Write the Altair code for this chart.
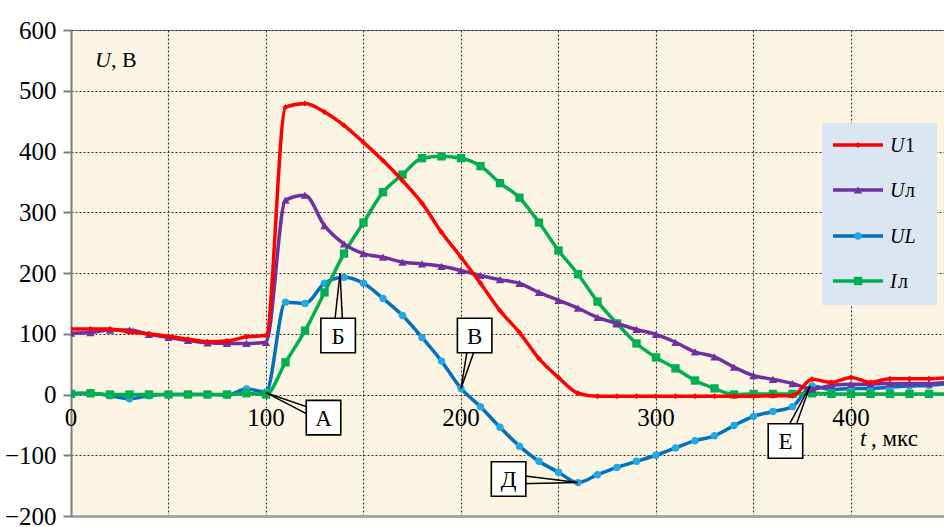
import altair as alt
import pandas as pd

# ---------------- data ----------------
t_us = [0, 10, 20, 30, 40, 50, 60, 70, 80, 90, 100, 110, 120, 130, 140, 150, 160, 170,
        180, 190, 200, 210, 220, 230, 240, 250, 260, 270, 280, 290, 300, 310, 320, 330,
        340, 350, 360, 370, 380, 390, 400, 410, 420, 430, 440, 450]

u1 = [108, 108, 108, 103, 100, 96, 91, 87, 88, 95, 97, 473, 479, 465, 443, 415, 385, 352,
      315, 267, 226, 183, 138, 102, 59, 28, 2, -3, -3, -3, -3, -3, -3, -3,
      -3, -3, -2, -2, 25, 20, 28, 20, 26, 26, 26, 28]

u_line = [101, 102, 106, 106, 99, 94, 89, 85, 84, 84, 86, 320, 328, 278, 248, 232, 226, 218,
          215, 211, 204, 196, 189, 183, 168, 155, 142, 127, 117, 107, 99, 86, 70, 62,
          45, 31, 25, 18, 9, 15, 17, 17, 18, 18, 18, 20]

u_L = [2, 2, -2, -7, -2, 0, 0, 0, -1, 9, 4, 152, 150, 183, 193, 183, 158, 130,
       94, 55, 10, -20, -54, -85, -110, -128, -145, -132, -120, -110, -100, -88, -76, -68,
       -51, -36, -28, -20, 14, 8, 10, 10, 12, 14, 15, 18]

i_line = [1, 2, 0, 0, 0, 0, 0, 0, 0, 2, 0, 53, 105, 168, 232, 283, 333, 362,
          389, 392, 389, 376, 348, 324, 283, 237, 198, 153, 117, 84, 61, 43, 23, 10,
          0, 1, 1, 1, 2, 1, 1, 1, 1, 1, 1, 1]

x_tick_labels = [0, 100, 200, 300, 400]
y_ticks = [-200, -100, 0, 100, 200, 300, 400, 500, 600]
x_grid = [0, 50, 100, 150, 200, 250, 300, 350, 400, 450]

ann_label = ["А", "Б", "В", "Д", "Е"]
ann_target_t = [100, 138, 200, 260, 379]
ann_target_u = [3, 200, 10, -145, 14]
ann_box_t = [129.5, 137, 207, 224.4, 366.4]
ann_box_u = [-38, 97, 97, -139, -76.5]

# ---------------- layout ----------------
W, H = 873, 486
X_MAX = 447.7
Y_MIN, Y_MAX = -200, 600
KX = W / X_MAX
KY = H / (Y_MAX - Y_MIN)
SERIF = "Liberation Serif"
BG = "#FDF5E3"

xs = alt.Scale(domain=[0, X_MAX], nice=False, zero=False)
ys = alt.Scale(domain=[Y_MIN, Y_MAX], nice=False)

x_axis = alt.Axis(values=x_grid, labels=False, ticks=False, title=None,
                  domain=True, domainColor="#A6A6A6", domainWidth=3,
                  grid=True, gridColor="#333333", gridDash=[2, 2], gridWidth=1.1)
y_axis = alt.Axis(values=y_ticks, title=None, grid=True, gridColor="#333333",
                  gridDash=[2, 2], gridWidth=1.1,
                  domain=True, domainColor="#7F7F7F", domainWidth=2,
                  ticks=True, tickColor="#7F7F7F", tickSize=8, tickWidth=2,
                  labelFont=SERIF, labelFontSize=25, labelColor="black", labelPadding=7)


def X(field):
    return alt.X(field, scale=xs, axis=x_axis)


def Y(field):
    return alt.Y(field, scale=ys, axis=y_axis)


series = [
    # name, values, line colour, marker colour, shape, size
    ("UL", u_L, "#0070C0", "#23A8E6", "circle", 55),
    ("Iл", i_line, "#00B050", "#00B050", "square", 70),
    ("Uл", u_line, "#7030A0", "#7030A0", "triangle-up", 70),
    ("U1", u1, "#FF0000", "#FF0000", "diamond", 35),
]

layers = []
for name, vals, lc, mc, shape, size in series:
    df = pd.DataFrame({"t": t_us, "u": vals})
    line = alt.Chart(df).mark_line(color=lc, strokeWidth=3.5, interpolate="monotone",
                                   clip=True).encode(x=X("t:Q"), y=Y("u:Q"))
    pts = alt.Chart(df).mark_point(shape=shape, filled=True, fill=mc, color=mc,
                                   size=size, opacity=1, clip=True).encode(
        x=X("t:Q"), y=Y("u:Q"))
    layers += [line, pts]

# x tick labels sitting on the zero line
xl = pd.DataFrame({"t": x_tick_labels, "u": [0] * len(x_tick_labels)})
layers.append(alt.Chart(xl).mark_text(font=SERIF, fontSize=25, color="black",
                                      baseline="middle", align="center", dy=23).encode(
    x=X("t:Q"), y=Y("u:Q"), text=alt.Text("t:Q")))

# callouts
rows = []
for lab, tx, ty, bx, by in zip(ann_label, ann_target_t, ann_target_u, ann_box_t, ann_box_u):
    dxp = (bx - tx) * KX
    dyp = (by - ty) * KY
    if abs(dxp) > abs(dyp):
        b1 = (bx, by + 5 / KY)
        b2 = (bx, by - 5 / KY)
    else:
        b1 = (bx - 5 / KX, by)
        b2 = (bx + 5 / KX, by)
    rows.append({"label": lab, "tx": tx, "ty": ty, "bx": bx, "by": by,
                 "b1x": b1[0], "b1y": b1[1], "b2x": b2[0], "b2y": b2[1]})
ann = pd.DataFrame(rows)
for bxf, byf in (("b1x", "b1y"), ("b2x", "b2y")):
    layers.append(alt.Chart(ann).mark_rule(color="black", strokeWidth=1.5).encode(
        x=X("tx:Q"), y=Y("ty:Q"), x2=f"{bxf}:Q", y2=f"{byf}:Q"))
layers.append(alt.Chart(ann).mark_point(shape="square", filled=True, fill="white",
                                        stroke="black", strokeWidth=1.6, size=1190,
                                        opacity=1).encode(x=X("bx:Q"), y=Y("by:Q")))
layers.append(alt.Chart(ann).mark_text(font=SERIF, fontSize=23, color="black",
                                       baseline="middle", align="center", dy=1).encode(
    x=X("bx:Q"), y=Y("by:Q"), text="label:N"))

one = pd.DataFrame({"k": [0]})


def txt(s, x, y, size, italic=False):
    kw = dict(text=s, font=SERIF, fontSize=size, color="black", align="left",
              baseline="alphabetic")
    if italic:
        kw["fontStyle"] = "italic"
    return alt.Chart(one).mark_text(**kw).encode(x=alt.value(x), y=alt.value(y))


# axis titles
layers += [txt("U", 24, 37, 22, True), txt(", В", 40, 37, 22)]
layers += [txt("t", 789, 416, 23, True), txt(", мкс", 800, 416, 23)]

# legend
layers.append(alt.Chart(one).mark_rect(fill="#DCE6F2").encode(
    x=alt.value(751), x2=alt.value(866), y=alt.value(93), y2=alt.value(275)))
legend_rows = [
    ("U1", "#FF0000", "#FF0000", "diamond", 35, "U", "1", 15),
    ("Uл", "#7030A0", "#7030A0", "triangle-up", 70, "U", "л", 15),
    ("UL", "#0070C0", "#23A8E6", "circle", 55, "UL", "", 0),
    ("Iл", "#00B050", "#00B050", "square", 70, "I", "л", 8),
]
ly = [115, 160, 206, 251]
for (name, lc, mc, shape, size, it, rg, w), yy in zip(legend_rows, ly):
    layers.append(alt.Chart(one).mark_rule(color=lc, strokeWidth=3.5).encode(
        x=alt.value(762), x2=alt.value(812), y=alt.value(yy), y2=alt.value(yy)))
    layers.append(alt.Chart(one).mark_point(shape=shape, filled=True, fill=mc, color=mc,
                                            size=size, opacity=1).encode(
        x=alt.value(787), y=alt.value(yy)))
    layers.append(txt(it, 819, yy + 7, 20, True))
    if rg:
        layers.append(txt(rg, 819 + w, yy + 7, 20))

chart = alt.layer(*layers).properties(
    width=W, height=H,
    autosize=alt.AutoSizeParams(type="none"),
    padding={"left": 71, "top": 30, "right": 0, "bottom": 11},
    background="white",
).configure_view(fill=BG, stroke="#7F7F7F", strokeWidth=1)

chart.save("out.html", embed_options={"renderer": "svg", "actions": False})
